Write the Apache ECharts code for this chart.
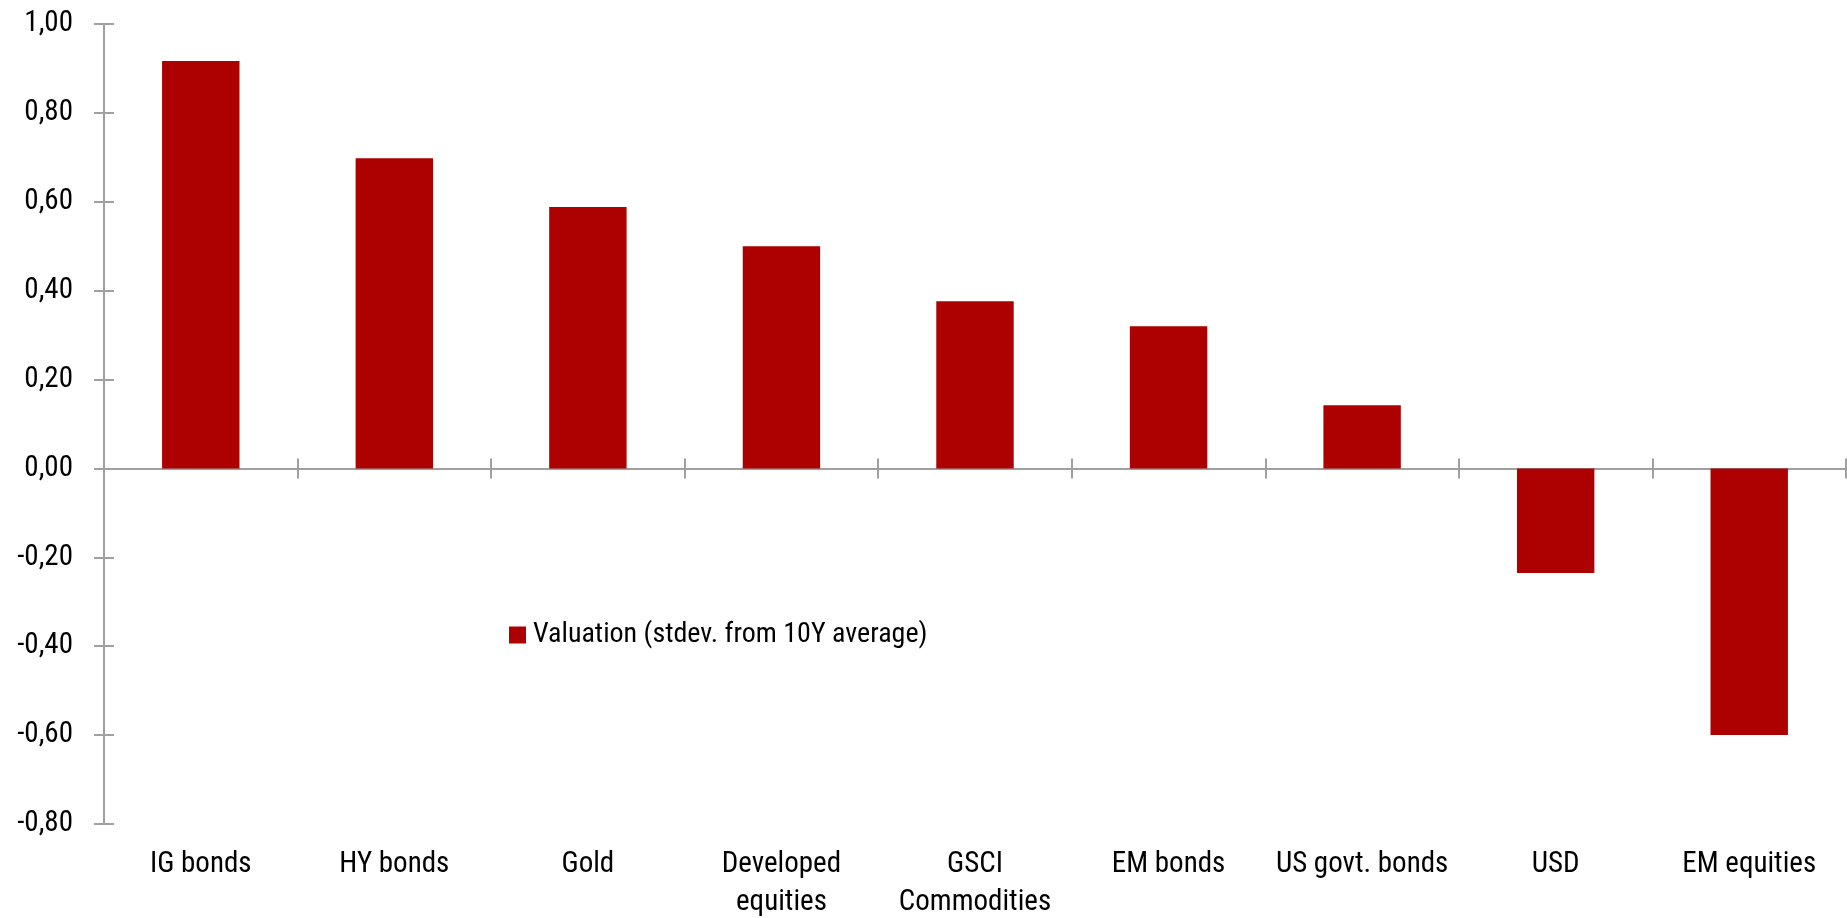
<!DOCTYPE html>
<html>
<head>
<meta charset="utf-8">
<script src="https://cdn.jsdelivr.net/npm/echarts@6/dist/echarts.min.js"></script>
<style>
html,body{margin:0;padding:0;background:#fff;}
#chart{width:1847px;height:918px;}
</style>
</head>
<body>
<div id="chart"></div>
<script>
const categories = ['IG bonds', 'HY bonds', 'Gold', 'Developed\nequities', 'GSCI\nCommodities', 'EM bonds', 'US govt. bonds', 'USD', 'EM equities'];
const valuation = [0.917, 0.698, 0.588, 0.500, 0.376, 0.320, 0.142, -0.235, -0.600];
const seriesName = 'Valuation (stdev. from 10Y average)';
const yMin = -0.8, yMax = 1.0, yStep = 0.2;

const FONT = '"Roboto Condensed", sans-serif';
const AXIS_COLOR = '#a0a0a0';
const fmt = v => (Math.abs(v) < 1e-9 ? 0 : v).toFixed(2).replace('.', ',');

const chart = echarts.init(document.getElementById('chart'));
chart.setOption({
  animation: false,
  backgroundColor: '#ffffff',
  grid: { left: 104, right: 1, top: 24, bottom: 94, containLabel: false, outerBoundsMode: 'none' },
  legend: {
    data: [seriesName],
    left: 504, top: 616,
    icon: 'rect', itemWidth: 17, itemHeight: 17,
    textStyle: { fontFamily: FONT, fontSize: 28, color: '#000', padding: [0, 0, 0, 2] }
  },
  xAxis: [
    {
      type: 'category', data: categories, position: 'bottom',
      axisLine: { show: false, onZero: false }, axisTick: { show: false },
      axisLabel: { fontFamily: FONT, fontSize: 29, color: '#000', lineHeight: 38, margin: 22, interval: 0 }
    },
    {
      type: 'category', data: categories, position: 'bottom',
      axisLine: { show: true, onZero: true, onZeroAxisIndex: 0, lineStyle: { color: AXIS_COLOR, width: 2 } },
      axisTick: { show: true, length: 10, inside: false, lineStyle: { color: AXIS_COLOR, width: 2 } },
      axisLabel: { show: false }
    },
    {
      type: 'category', data: categories, position: 'bottom',
      axisLine: { show: false, onZero: true, onZeroAxisIndex: 1 },
      axisTick: { show: true, length: 10, inside: true, lineStyle: { color: AXIS_COLOR, width: 2 } },
      axisLabel: { show: false }
    }
  ],
  yAxis: [
    {
      type: 'value', min: yMin, max: yMax, interval: yStep, position: 'left',
      splitLine: { show: false },
      axisLine: { show: true, lineStyle: { color: AXIS_COLOR, width: 2 } },
      axisTick: { show: true, length: 10, inside: false, lineStyle: { color: AXIS_COLOR, width: 2 } },
      axisLabel: { fontFamily: FONT, fontSize: 29, color: '#000', margin: 31, formatter: fmt }
    },
    {
      type: 'value', min: yMin, max: yMax, interval: yStep, position: 'left', offset: 0,
      splitLine: { show: false },
      axisLine: { show: false },
      axisTick: { show: true, length: 10, inside: true, lineStyle: { color: AXIS_COLOR, width: 2 } },
      axisLabel: { show: false }
    }
  ],
  series: [
    {
      name: seriesName, type: 'bar', xAxisIndex: 0, yAxisIndex: 0,
      data: valuation, barWidth: '40%',
      itemStyle: { color: '#ad0000' }
    }
  ]
});
</script>
</body>
</html>
